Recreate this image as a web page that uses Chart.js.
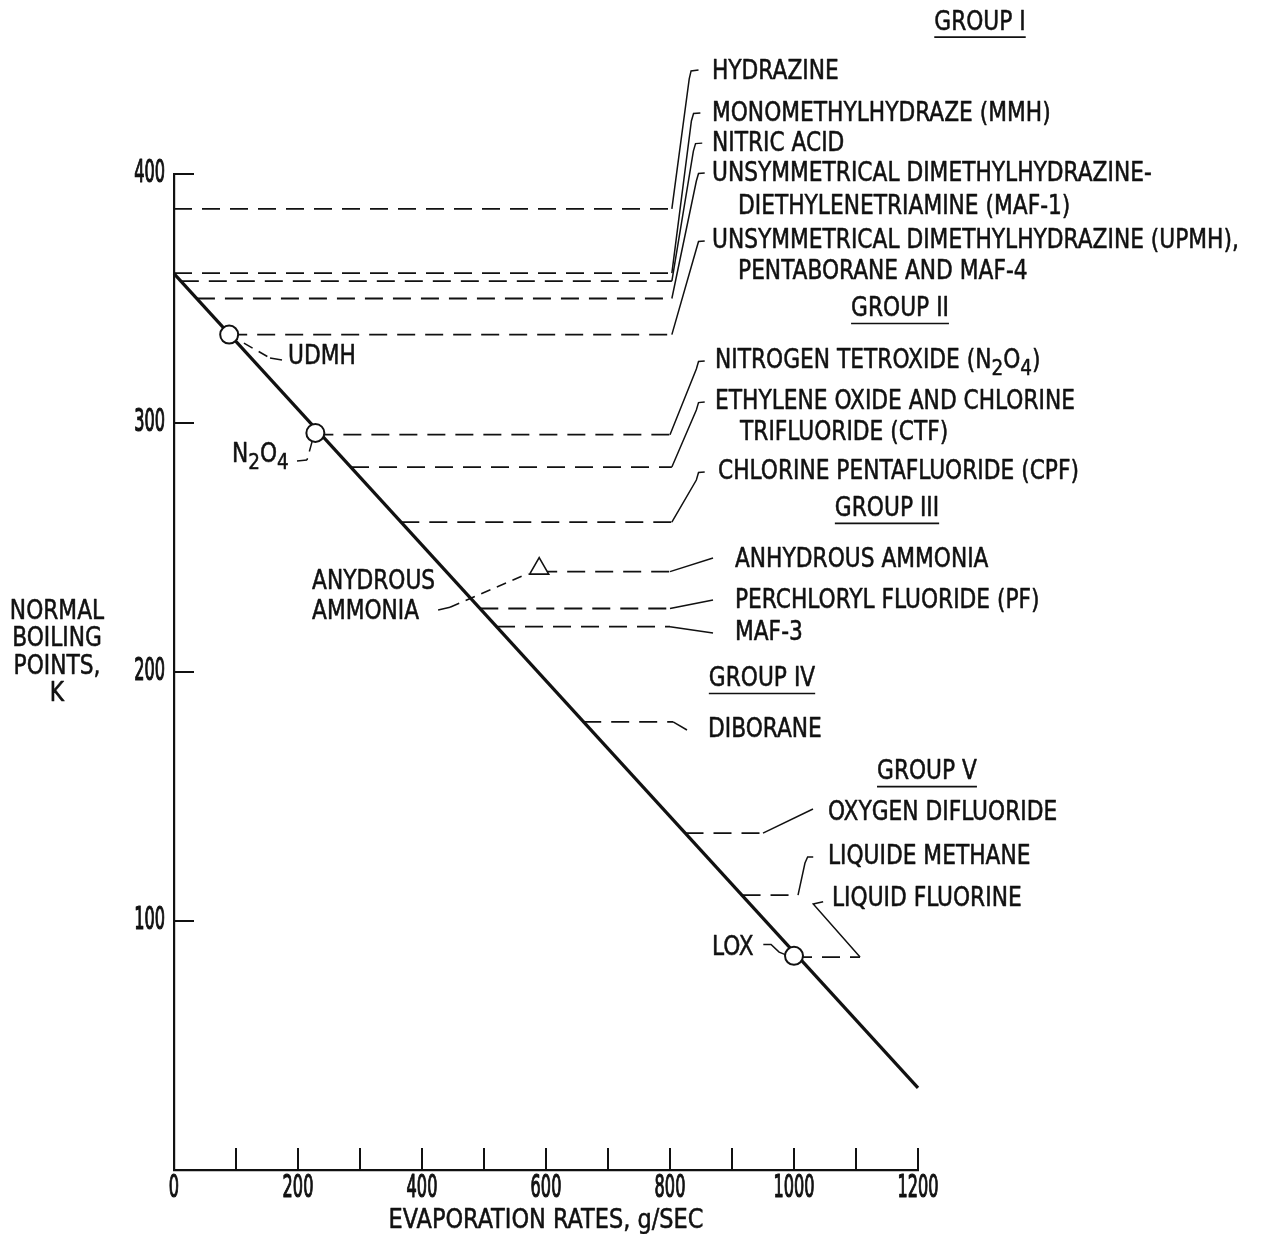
<!DOCTYPE html>
<html>
<head>
<meta charset="utf-8">
<script src="https://cdn.jsdelivr.net/npm/chart.js@4.4.1/dist/chart.umd.min.js"></script>
<style>
  html, body { margin: 0; padding: 0; background: #fff; }
  #wrap { width: 1263px; height: 1234px; }
</style>
</head>
<body>
<div id="wrap"><canvas id="chart" width="1263" height="1234"></canvas></div>
<script>
// Evaporation rate of propellant spills versus normal boiling point.

// Correlation line: boiling point (K) against evaporation rate (g/sec)
const rateLine = [{ x: 0, y: 360 }, { x: 1200, y: 33 }];

// Reference propellants marked on the line: UDMH, N2O4, LOX
const refRates = [89, 228, 1000];
const refBoiling = [335.5, 296, 86];

// Anhydrous ammonia measured point
const ammoniaRate = [589];
const ammoniaBoiling = [241.5];

// Boiling points of the listed propellants and the span of each dashed guide
const propNames = ['HYDRAZINE', 'MMH', 'NITRIC ACID', 'MAF-1', 'UDMH / MAF-4',
  'N2O4', 'CTF', 'CPF', 'ANHYDROUS AMMONIA', 'PF', 'MAF-3', 'DIBORANE',
  'OXYGEN DIFLUORIDE', 'LIQUID METHANE', 'LIQUID FLUORINE'];
const boilingK = [386, 360.2, 357, 350, 335.5, 295.3, 282.3, 260.2, 240.3, 225.5, 218.2, 180, 135.3, 110.4, 85.5];
const guideFrom = [0, 0, 11, 37, 89, 228, 285.5, 366.6, 589, 494, 521, 660, 825, 917, 1000];
const guideTo = [803, 803, 803, 803, 803, 800, 803, 803, 800, 800, 800, 805, 950, 1006.5, 1106.5];

// Leader lines from the end of each guide to its name (x = g/sec, y = K)
const leaders = [
  [[803, 386], [831, 438.2], [834, 441.4], [846, 441.8]],
  [[803, 360.2], [834.5, 421.3], [838, 424.3], [849, 424.5]],
  [[803, 357], [837.7, 409.2], [841.2, 412.2], [852, 412.4]],
  [[803, 350], [842.5, 397.2], [846, 400.2], [856, 400.4]],
  [[803, 335.5], [842.5, 369.9], [846, 372.9], [856, 373.1]],
  [[800, 295.3], [842.5, 321.7], [846, 324.7], [856, 324.9]],
  [[803, 282.3], [842.5, 305.2], [846, 308.2], [856, 308.4]],
  [[803, 260.2], [842.5, 277.1], [846, 280.1], [856, 280.3]],
  [[800, 240.3], [869.4, 245.8]],
  [[800, 225.5], [869.4, 228.9]],
  [[800, 218.2], [869.4, 215.7]],
  [[805, 180], [827.4, 176.7]],
  [[950, 135.3], [1030.6, 145.0]],
  [[1006.5, 110.4], [1017.7, 123.3], [1022, 125.7], [1031, 125.7]],
  [[1106.5, 85.5], [1031, 106.8], [1047, 107.7]]
];

// Callouts for the marked points: dashed part, then solid tail
const calloutDashed = [
  [[89, 335.5], [154.8, 326.1]],
  [[222.6, 292.4], [214.5, 285.1]],
  [[445.2, 226], [571.5, 239.6]]
];
const calloutSolid = [
  [[154.8, 326.1], [174.2, 325.3]],
  [[214.5, 285.1], [198.4, 284.7]],
  [[426, 224.9], [445.2, 226]],
  [[950.5, 90.6], [963, 90.6], [976, 87.5], [988, 86.3]]
];

// Axis ticks
const xTicks = [0, 100, 200, 300, 400, 500, 600, 700, 800, 900, 1000, 1100, 1200];
const xTickLabels = ['0', '', '200', '', '400', '', '600', '', '800', '', '1000', '', '1200'];
const yTicks = [0, 100, 200, 300, 400];
const yTickLabels = ['', '100', '200', '300', '400'];

// Text placed in chart units (left-aligned, vertically centred)
const labels = [
  { t: 'HYDRAZINE', x: 867.7, y: 441.0 },
  { t: 'MONOMETHYLHYDRAZE (MMH)', x: 867.7, y: 424.0 },
  { t: 'NITRIC ACID', x: 867.7, y: 412.0 },
  { t: 'UNSYMMETRICAL DIMETHYLHYDRAZINE-', x: 867.7, y: 400.0 },
  { t: 'DIETHYLENETRIAMINE (MAF-1)', x: 909.7, y: 386.7 },
  { t: 'UNSYMMETRICAL DIMETHYLHYDRAZINE (UPMH),', x: 867.7, y: 373.0 },
  { t: 'PENTABORANE AND MAF-4', x: 909.7, y: 360.4 },
  { rich: [['NITROGEN TETROXIDE (N', 0], ['2', 1], ['O', 0], ['4', 1], [')', 0]], x: 872.6, y: 324.7 },
  { t: 'ETHYLENE OXIDE AND CHLORINE', x: 872.6, y: 308.2 },
  { t: 'TRIFLUORIDE (CTF)', x: 912.9, y: 295.8 },
  { t: 'CHLORINE PENTAFLUORIDE (CPF)', x: 877.4, y: 280.1 },
  { t: 'ANHYDROUS AMMONIA', x: 904.8, y: 244.8 },
  { t: 'PERCHLORYL FLUORIDE (PF)', x: 904.8, y: 228.3 },
  { t: 'MAF-3', x: 904.8, y: 215.5 },
  { t: 'DIBORANE', x: 861.3, y: 176.5 },
  { t: 'OXYGEN DIFLUORIDE', x: 1054.8, y: 143.2 },
  { t: 'LIQUIDE METHANE', x: 1054.8, y: 125.5 },
  { t: 'LIQUID FLUORINE', x: 1061.3, y: 108.6 },
  { t: 'UDMH', x: 183.9, y: 326.3 },
  { rich: [['N', 0], ['2', 1], ['O', 0], ['4', 1]], x: 93.5, y: 286.9 },
  { t: 'ANYDROUS', x: 222.6, y: 235.9 },
  { t: 'AMMONIA', x: 222.6, y: 223.9 },
  { t: 'LOX', x: 867.7, y: 89.0 }
];
const groupHeads = [
  { t: 'GROUP I', x: 1300, y: 460.6 },
  { t: 'GROUP II', x: 1171, y: 345.6 },
  { t: 'GROUP III', x: 1150, y: 265.3 },
  { t: 'GROUP IV', x: 948.4, y: 197.0 },
  { t: 'GROUP V', x: 1214.5, y: 159.6 }
];
const xTitle = 'EVAPORATION RATES, g/SEC';
const yTitle = ['NORMAL', 'BOILING', 'POINTS,', 'K'];

const FONT = "'Liberation Sans Narrow', 'Arial Narrow', 'DejaVu Sans Condensed', sans-serif";
const INK = '#111';
const TEXT_SIZE = 26;
const TEXT_SQUEEZE = 0.93;   // horizontal condensing of lettering
const TEXT_WEIGHT = 0.5;     // extra stroke to thicken lettering
const NUM_SIZE = 32;
const NUM_SQUEEZE = 0.56;    // tick numerals are narrow and tall
const NUM_WEIGHT = 1.2;

const pts = arr => arr.map(p => ({ x: p[0], y: p[1] }));
const base = { parsing: true, fill: false, tension: 0, pointRadius: 0, clip: false, borderColor: INK, order: 5 };

const datasets = [];
datasets.push({ ...base, label: 'rate line', data: rateLine, borderWidth: 3.2, order: 3 });
propNames.forEach((n, i) => {
  datasets.push({ ...base, label: n + ' guide', borderWidth: 1.8, borderDash: [18, 10],
    data: [{ x: guideFrom[i], y: boilingK[i] }, { x: guideTo[i], y: boilingK[i] }] });
  datasets.push({ ...base, label: n + ' leader', borderWidth: 1.5, data: pts(leaders[i]) });
});
calloutDashed.forEach((c, i) => datasets.push({ ...base, label: 'callout dash ' + i, borderWidth: 1.5, borderDash: [10, 7], data: pts(c) }));
calloutSolid.forEach((c, i) => datasets.push({ ...base, label: 'callout ' + i, borderWidth: 1.5, data: pts(c) }));
datasets.push({ ...base, label: 'reference propellants', showLine: false, order: 0,
  data: refRates.map((r, i) => ({ x: r, y: refBoiling[i] })),
  pointRadius: 9, pointStyle: 'circle', pointBackgroundColor: '#fff', pointBorderColor: INK, pointBorderWidth: 2 });
datasets.push({ ...base, label: 'anhydrous ammonia', showLine: false, order: 0,
  data: ammoniaRate.map((r, i) => ({ x: r, y: ammoniaBoiling[i] })),
  pointRadius: 11, pointStyle: 'triangle', pointBackgroundColor: '#fff', pointBorderColor: INK, pointBorderWidth: 1.6 });

// draw text squeezed horizontally by factor k, thickened by a thin outline
function squeezed(ctx, s, x, y, k, weight) {
  ctx.save();
  ctx.translate(x, y);
  ctx.scale(k, 1);
  ctx.fillText(s, 0, 0);
  ctx.lineWidth = weight === undefined ? TEXT_WEIGHT : weight;
  ctx.lineJoin = 'round';
  ctx.strokeText(s, 0, 0);
  ctx.restore();
  return ctx.measureText(s).width * k;
}

function drawRich(ctx, parts, x, y) {
  let cx = x;
  parts.forEach(([s, sub]) => {
    ctx.font = (sub ? Math.round(TEXT_SIZE * 0.85) : TEXT_SIZE) + 'px ' + FONT;
    cx += squeezed(ctx, s, cx, sub ? y + 8 : y, TEXT_SQUEEZE);
  });
}

const decor = {
  id: 'decor',
  afterDraw(chart) {
    const { ctx, chartArea: a, scales: { x, y } } = chart;
    ctx.save();
    ctx.strokeStyle = INK;
    ctx.fillStyle = INK;
    // inward tick marks
    ctx.lineWidth = 2;
    xTicks.forEach(v => {
      if (v === 0) return;
      const px = x.getPixelForValue(v);
      ctx.beginPath(); ctx.moveTo(px, a.bottom); ctx.lineTo(px, a.bottom - 22); ctx.stroke();
    });
    yTicks.forEach(v => {
      if (v === 0) return;
      const py = y.getPixelForValue(v);
      ctx.beginPath(); ctx.moveTo(a.left, py); ctx.lineTo(a.left + 20, py); ctx.stroke();
    });
    // tick numerals
    ctx.font = NUM_SIZE + 'px ' + FONT;
    ctx.textBaseline = 'middle';
    ctx.textAlign = 'center';
    xTicks.forEach((v, i) => {
      if (xTickLabels[i]) squeezed(ctx, xTickLabels[i], x.getPixelForValue(v), a.bottom + 19, NUM_SQUEEZE, NUM_WEIGHT);
    });
    ctx.textAlign = 'right';
    yTicks.forEach((v, i) => {
      if (yTickLabels[i]) squeezed(ctx, yTickLabels[i], a.left - 9, y.getPixelForValue(v), NUM_SQUEEZE, NUM_WEIGHT);
    });
    // labels
    ctx.textAlign = 'left';
    labels.forEach(l => {
      const px = x.getPixelForValue(l.x), py = y.getPixelForValue(l.y);
      if (l.rich) { drawRich(ctx, l.rich, px, py); }
      else { ctx.font = TEXT_SIZE + 'px ' + FONT; squeezed(ctx, l.t, px, py, TEXT_SQUEEZE); }
    });
    // group headings, underlined
    ctx.font = TEXT_SIZE + 'px ' + FONT;
    ctx.textAlign = 'center';
    groupHeads.forEach(g => {
      const px = x.getPixelForValue(g.x), py = y.getPixelForValue(g.y);
      const w = squeezed(ctx, g.t, px, py, TEXT_SQUEEZE);
      ctx.lineWidth = 1.6;
      ctx.beginPath(); ctx.moveTo(px - w / 2, py + 14); ctx.lineTo(px + w / 2, py + 14); ctx.stroke();
    });
    // axis titles
    squeezed(ctx, xTitle, (a.left + a.right) / 2, a.bottom + 51, 0.96);
    yTitle.forEach((s, i) => squeezed(ctx, s, 57, 612 + i * 27.5, TEXT_SQUEEZE));
    ctx.restore();
  }
};

new Chart(document.getElementById('chart'), {
  type: 'line',
  data: { datasets },
  plugins: [decor],
  options: {
    responsive: false,
    animation: false,
    events: [],
    layout: { padding: { top: 174, right: 345, left: 0, bottom: 0 } },
    plugins: { legend: { display: false }, tooltip: { enabled: false } },
    scales: {
      x: {
        type: 'linear', min: 0, max: 1200,
        afterFit(s) { s.height = 64; },
        afterBuildTicks(s) { s.ticks = xTicks.map(v => ({ value: v })); },
        ticks: { display: false },
        grid: { display: true, drawOnChartArea: false, drawTicks: false, color: 'rgba(0,0,0,0)' },
        border: { display: true, color: INK, width: 2.2 }
      },
      y: {
        type: 'linear', min: 0, max: 400,
        afterFit(s) { s.width = 174; },
        afterBuildTicks(s) { s.ticks = yTicks.map(v => ({ value: v })); },
        ticks: { display: false },
        grid: { display: true, drawOnChartArea: false, drawTicks: false, color: 'rgba(0,0,0,0)' },
        border: { display: true, color: INK, width: 2.2 }
      }
    }
  }
});
</script>
</body>
</html>
